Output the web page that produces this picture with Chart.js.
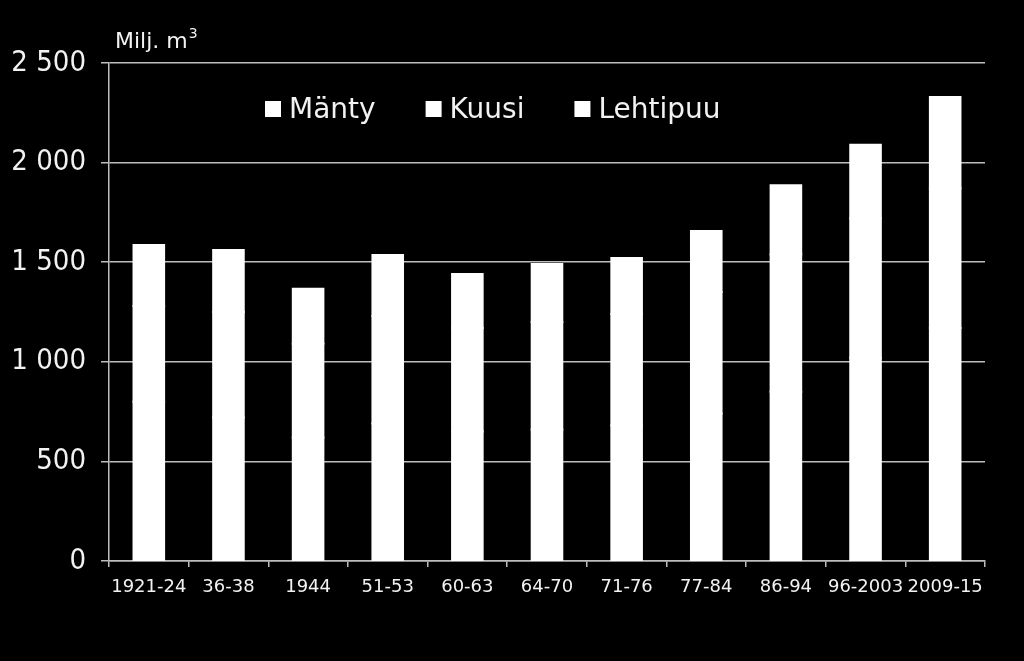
<!DOCTYPE html>
<html>
<head>
<meta charset="utf-8">
<script src="https://cdn.jsdelivr.net/npm/chart.js@4"></script>
<style>
  html, body { margin: 0; padding: 0; background: #000; }
  #wrap { width: 1024px; height: 661px; }
</style>
</head>
<body>
<div id="wrap"><canvas id="growing_canvas" width="1024" height="661"></canvas></div>
<script>
// Inventory periods on the x axis
var periods = ['1921-24', '36-38', '1944', '51-53', '60-63', '64-70', '71-76', '77-84', '86-94', '96-2003', '2009-15'];
// Growing stock by species, milj. m3 (all bars drawn white, so only the totals show)
var manty    = [800, 720, 620, 690, 650, 660, 680, 740, 850, 1020, 1170];
var kuusi    = [480, 530, 470, 540, 520, 540, 560, 610, 690,  700,  700];
var lehtipuu = [306, 311, 277, 306, 271, 291, 281, 307, 346,  370,  459];
var seriesNames = ['Mänty', 'Kuusi', 'Lehtipuu'];
var yTicks = [0, 500, 1000, 1500, 2000, 2500];

var FONT = '"DejaVu Sans", Verdana, sans-serif';
var YFONT = '"DejaVu Sans Condensed", "Liberation Sans", sans-serif';
var TEXT = '#f2f2f2';
var GRID = '#bdbdbd';

//Legend + unit label drawn inside the plot
var overlay = {
  id: 'overlay',
  afterDraw: function (chart) {
    var c = chart.ctx;
    c.save();
    c.fillStyle = TEXT;
    c.font = '22px ' + FONT;
    c.textBaseline = 'alphabetic';
    c.fillText('Milj. m', 115, 48);
    var w = c.measureText('Milj. m').width;
    c.font = '14px ' + FONT;
    c.fillText('3', 115 + w + 1, 38);

    c.font = '28px ' + FONT;
    var x = 265;
    chart.data.datasets.forEach(function (ds) {
      c.fillStyle = ds.backgroundColor;
      c.fillRect(x, 101, 16, 16);
      c.fillStyle = TEXT;
      c.fillText(ds.label, x + 24, 118);
      x += 24 + c.measureText(ds.label).width + 50;
    });
    c.restore();
  }
};

var ctx = document.getElementById('growing_canvas').getContext('2d');
var chart = new Chart(ctx, {
  type: 'bar',
  data: {
    labels: periods,
    datasets: [
      { label: seriesNames[0], data: manty, backgroundColor: '#ffffff' },
      { label: seriesNames[1], data: kuusi, backgroundColor: '#ffffff' },
      { label: seriesNames[2], data: lehtipuu, backgroundColor: '#ffffff' }
    ]
  },
  options: {
    responsive: false,
    animation: false,
    layout: { padding: { top: 63, right: 39, bottom: 0, left: 0 } },
    datasets: { bar: { categoryPercentage: 0.8, barPercentage: 0.48, borderWidth: 0, inflateAmount: 1 } },
    plugins: { legend: { display: false }, tooltip: { enabled: false } },
    scales: {
      x: {
        stacked: true,
        afterFit: function (axis) { axis.height = 100; },
        grid: { offset: true, drawOnChartArea: false, color: GRID, tickLength: 6, lineWidth: 1.5 },
        border: { color: GRID, width: 1.5 },
        ticks: { color: TEXT, font: { family: FONT, size: 18 }, padding: 10, maxRotation: 0, autoSkip: false }
      },
      y: {
        stacked: true,
        min: yTicks[0],
        max: yTicks[yTicks.length - 1],
        afterFit: function (axis) { axis.width = 109; },
        afterBuildTicks: function (axis) { axis.ticks = yTicks.map(function (v) { return { value: v }; }); },
        grid: { color: GRID, tickLength: 8, lineWidth: 1.5 },
        border: { color: GRID, width: 1.5 },
        ticks: {
          color: TEXT,
          font: { family: YFONT, size: 29 },
          padding: 15,
          callback: function (v) { return String(v).replace(/\B(?=(\d{3})+(?!\d))/g, ' '); }
        }
      }
    }
  },
  plugins: [overlay]
});
</script>
</body>
</html>
